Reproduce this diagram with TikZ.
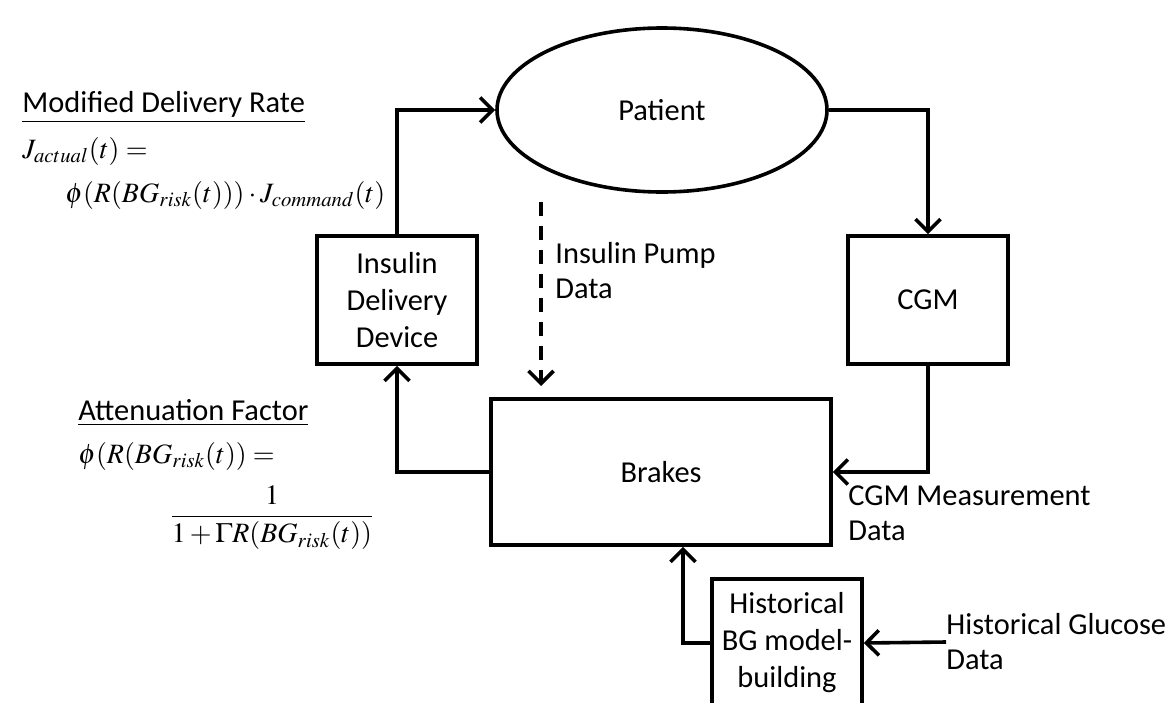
\documentclass[tikz,border=0pt]{standalone}
\usepackage{amsmath}
\usepackage{mathptmx}
\usepackage[no-math]{fontspec}
\setmainfont{Carlito}
\usepackage{tikz}
\usetikzlibrary{positioning,arrows.meta,shapes.geometric}

\begin{document}
\begin{tikzpicture}[x=0.5pt, y=-0.5pt,
  every node/.style={font=\fontsize{15.2}{18.5}\selectfont},
  blk/.style={draw, line width=1.8pt, align=center, inner sep=0pt},
  lbl/.style={align=left, anchor=north west, inner sep=0pt, font=\fontsize{15.2}{17.5}\selectfont},
  eq/.style={anchor=base west, inner sep=0pt, font=\fontsize{14}{17}\selectfont},
  arr/.style={line width=1.8pt, -{Straight Barb[length=2.2mm, width=4.4mm, line width=1.8pt]}}]
\useasboundingbox (0,0) rectangle (1171,702);
% blocks
\node[blk, ellipse, minimum width=165pt, minimum height=82pt] (pat) at (662,110) {Patient};
\node[blk, minimum width=80pt, minimum height=64pt] (idd) at (397,300) {Insulin\\ Delivery\\ Device};
\node[blk, minimum width=80pt, minimum height=64pt] (cgm) at (928,300) {CGM};
\node[blk, minimum width=170pt, minimum height=73pt] (brk) at (661,472) {Brakes};
\node[blk, minimum width=75pt, minimum height=64pt] (hist) at (787,643) {Historical\\ BG model-\\ building};
% labels
\node[lbl] (ipd) at (555,242) {Insulin Pump\\ Data};
\node[lbl] (cmd) at (848,485) {CGM Measurement\\ Data};
\node[lbl, anchor=west] (hgd) at (946,642) {Historical Glucose\\ Data};
\coordinate (dtop) at (541,202);
\coordinate (dbot) at (541,386);
% equations
\node[anchor=base west, inner sep=0pt] (mdr) at (22,112) {\underline{Modified Delivery Rate}};
\node[eq] (ja) at (22,158) {$J_{actual}(t) =$};
\node[eq] (jc) at (65,202) {$\phi(R(BG_{risk}(t)))\cdot J_{command}(t)$};
\node[anchor=base west, inner sep=0pt] (atf) at (78,420) {\underline{Attenuation Factor}};
\node[eq] (phi) at (78,463) {$\phi(R(BG_{risk}(t)) =$};
\node[eq, anchor=center] (frac) at (272,518) {$\dfrac{1}{1+\Gamma R(BG_{risk}(t))}$};
% connectors
\draw[arr] (idd.north) |- (pat.west);
\draw[arr] (pat.east) -| (cgm.north);
\draw[arr] (cgm.south) |- (brk.east);
\draw[arr] (brk.west) -| (idd.south);
\draw[arr] (hist.west) -| ([xshift=11pt]brk.south);
\draw[arr] (hgd.west) -- (hist.east);
\draw[arr, dash pattern=on 7pt off 5pt] (dtop) -- (dbot);
\end{tikzpicture}
\end{document}
